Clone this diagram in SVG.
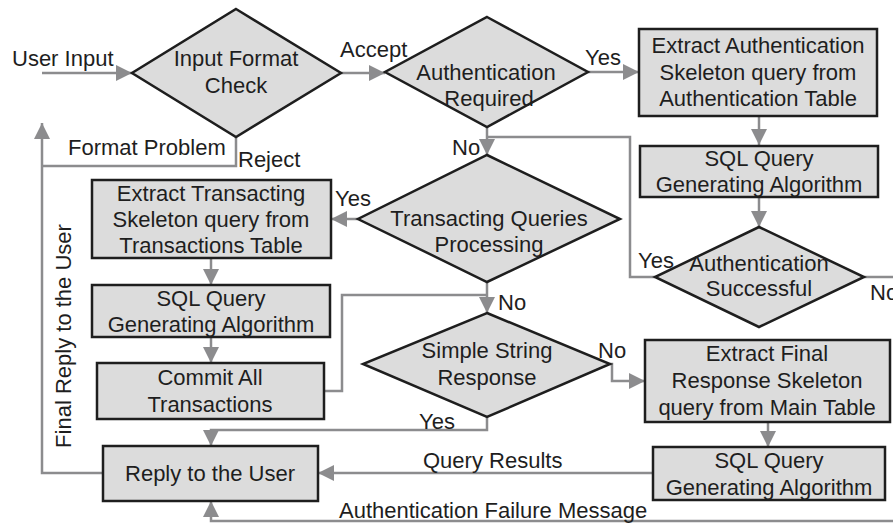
<svg xmlns="http://www.w3.org/2000/svg" width="893" height="523" viewBox="0 0 893 523">
<style>
.n{fill:#dcdcdc;stroke:#1e1e1e;stroke-width:2.5}
.c{fill:none;stroke:#8c8c8e;stroke-width:2.5}
text{font-family:"Liberation Sans",Arial,sans-serif;font-size:22px;fill:#1e1e1e}
.m{text-anchor:middle}
</style>
<defs>
<marker id="ah" viewBox="0 0 16 16" refX="16" refY="8" markerWidth="16" markerHeight="16" markerUnits="userSpaceOnUse" orient="auto">
<path d="M0,0 L16,8 L0,16 z" fill="#8c8c8e"/>
</marker>
</defs>
<rect width="893" height="523" fill="#ffffff"/>
<g id="connectors">
<path class="c" d="M42,73 H132" marker-end="url(#ah)"/>
<path class="c" d="M341,73 H385" marker-end="url(#ah)"/>
<path class="c" d="M588,72 H639" marker-end="url(#ah)"/>
<path class="c" d="M759,116 V145" marker-end="url(#ah)"/>
<path class="c" d="M759,197 V227" marker-end="url(#ah)"/>
<path class="c" d="M655,277 H630 V137 H487"/>
<path class="c" d="M487,127 V155" marker-end="url(#ah)"/>
<path class="c" d="M864,277 H893"/>
<path class="c" d="M358,219 H331" marker-end="url(#ah)"/>
<path class="c" d="M211,258 V285" marker-end="url(#ah)"/>
<path class="c" d="M211,337 V363" marker-end="url(#ah)"/>
<path class="c" d="M324,391 H342 V295 H487"/>
<path class="c" d="M487,282 V313" marker-end="url(#ah)"/>
<path class="c" d="M610,364 H612 V381 H645" marker-end="url(#ah)"/>
<path class="c" d="M768,422 V447" marker-end="url(#ah)"/>
<path class="c" d="M653,473 H318" marker-end="url(#ah)"/>
<path class="c" d="M487,417 V430 H211 V446" marker-end="url(#ah)"/>
<path class="c" d="M893,521 H211 V501" marker-end="url(#ah)"/>
<path class="c" d="M236,137 V166 H42"/>
<path class="c" d="M103,473 H42 V123" marker-end="url(#ah)"/>
</g>
<g id="labels">
<text x="12" y="66">User Input</text>
<text x="340" y="57">Accept</text>
<text x="585" y="65">Yes</text>
<text x="452" y="155">No</text>
<text x="68" y="155">Format Problem</text>
<text x="238" y="167">Reject</text>
<text x="335" y="206">Yes</text>
<text x="638" y="268">Yes</text>
<text x="870" y="300">No</text>
<text x="498" y="310">No</text>
<text x="598" y="358">No</text>
<text x="419" y="429">Yes</text>
<text x="423" y="468">Query Results</text>
<text x="339" y="518">Authentication Failure Message</text>
<text class="m" transform="translate(71,336) rotate(-90)">Final Reply to the User</text>
</g>
<g id="input-format-check">
<polygon class="n" points="236,9 341,73 236,137 132,73"/>
<text class="m" x="236" y="66">Input Format</text>
<text class="m" x="236" y="93">Check</text>
</g>
<g id="authentication-required">
<polygon class="n" points="487,17 588,72 487,127 385,72"/>
<text class="m" x="486" y="80">Authentication</text>
<text class="m" x="489" y="106">Required</text>
</g>
<g id="extract-authentication">
<rect class="n" x="639" y="29" width="238" height="87"/>
<text class="m" x="758" y="53">Extract Authentication</text>
<text class="m" x="758" y="80">Skeleton query from</text>
<text class="m" x="758" y="106">Authentication Table</text>
</g>
<g id="sql-query-1">
<rect class="n" x="640" y="146" width="238" height="51"/>
<text class="m" x="759" y="166">SQL Query</text>
<text class="m" x="759" y="192">Generating Algorithm</text>
</g>
<g id="authentication-successful">
<polygon class="n" points="759,227 864,277 759,327 655,277"/>
<text class="m" x="759" y="271">Authentication</text>
<text class="m" x="759" y="296">Successful</text>
</g>
<g id="transacting-queries">
<polygon class="n" points="487,155 620,219 487,282 358,219"/>
<text class="m" x="489" y="226">Transacting Queries</text>
<text class="m" x="489" y="252">Processing</text>
</g>
<g id="extract-transacting">
<rect class="n" x="92" y="180" width="239" height="78"/>
<text class="m" x="211" y="201">Extract Transacting</text>
<text class="m" x="211" y="227">Skeleton query from</text>
<text class="m" x="211" y="253">Transactions Table</text>
</g>
<g id="sql-query-2">
<rect class="n" x="92" y="285" width="238" height="52"/>
<text class="m" x="211" y="306">SQL Query</text>
<text class="m" x="211" y="332">Generating Algorithm</text>
</g>
<g id="commit-all">
<rect class="n" x="97" y="363" width="227" height="56"/>
<text class="m" x="210" y="385">Commit All</text>
<text class="m" x="210" y="412">Transactions</text>
</g>
<g id="simple-string">
<polygon class="n" points="487,313 610,364 487,417 363,364"/>
<text class="m" x="487" y="358">Simple String</text>
<text class="m" x="487" y="385">Response</text>
</g>
<g id="extract-final">
<rect class="n" x="645" y="340" width="245" height="82"/>
<text class="m" x="767" y="361">Extract Final</text>
<text class="m" x="767" y="388">Response Skeleton</text>
<text class="m" x="767" y="415">query from Main Table</text>
</g>
<g id="sql-query-3">
<rect class="n" x="653" y="447" width="232" height="53"/>
<text class="m" x="769" y="468">SQL Query</text>
<text class="m" x="769" y="495">Generating Algorithm</text>
</g>
<g id="reply">
<rect class="n" x="103" y="446" width="215" height="55"/>
<text class="m" x="210" y="481">Reply to the User</text>
</g>
</svg>
